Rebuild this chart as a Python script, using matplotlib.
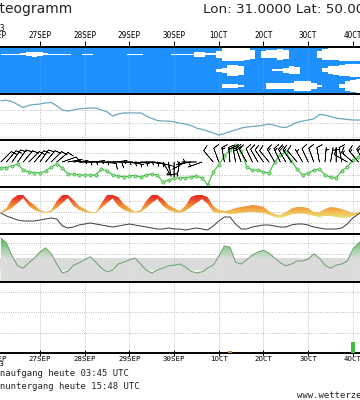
import numpy as np
import matplotlib
matplotlib.use("Agg")
import matplotlib.pyplot as plt
from matplotlib.colors import LinearSegmentedColormap
from matplotlib.patches import PathPatch

# ---------------- data ----------------
# time: days since 26 SEP 2023 00 UTC, 3-hourly steps
t = 0.125 + 0.125 * np.arange(66)

day_ticks = [0, 1, 2, 3, 4, 5, 6, 7, 8]
top_labels = ["2023\n26SEP", "27SEP", "28SEP", "29SEP", "30SEP", "1OCT", "2OCT", "3OCT", "4OCT"]
bottom_labels = ["26SEP\n2023", "27SEP", "28SEP", "29SEP", "30SEP", "1OCT", "2OCT", "3OCT", "4OCT"]

# cloud cover fraction (high / mid / low layer)
cloud_high = [0.1, 0.1, 0.1, 0.1, 0.15, 0.3, 0.35, 0.3, 0.15, 0.1, 0.1, 0.1, 0.1,
              0, 0, 0.1, 0.1, 0, 0, 0, 0, 0, 0, 0.1, 0.1, 0.1, 0, 0, 0, 0, 0,
              0.1, 0.1, 0.1, 0.1, 0.4, 0.4, 0.15, 0.15, 0.5, 1, 1, 1, 1, 0.9, 0.7,
              0, 0.5, 0.6, 0.6, 0.8, 0.7, 0, 0, 0, 0, 0, 0.5, 0.8, 0.9, 0.9,
              1, 1, 1, 1, 1]
cloud_mid = [0] * 39 + [0.2, 0.4, 0.8, 0.8, 0.7, 0, 0, 0, 0, 0,
                        0.15, 0.15, 0.35, 0.6, 0.5, 0, 0, 0, 0,
                        0.3, 0.6, 0.7, 0.8, 0.9, 1, 1, 1]
cloud_low = [0] * 40 + [0.25, 0.3, 0.3, 0.2, 0, 0, 0, 0,
                        0.4, 0.45, 0.45, 0.45, 0.5, 0.8, 0.8, 0.7, 0.4, 0.15,
                        0, 0, 0, 0.3, 0.7, 0.9, 1, 1]

# sea level pressure (hPa)
pressure = [1023.4, 1023.6, 1023.1, 1022.0, 1020.9, 1021.7, 1022.0, 1022.2, 1022.6, 1022.8,
            1021.5, 1020.0, 1019.6, 1020.0, 1020.4, 1020.6, 1020.7, 1020.7, 1020.0, 1019.3,
            1017.8, 1018.5, 1018.9, 1018.9, 1018.9, 1018.9, 1017.8, 1016.9, 1016.1, 1015.9,
            1015.9, 1015.6, 1015.1, 1014.8, 1014.3, 1013.3, 1012.8, 1012.2, 1011.5, 1010.7,
            1011.3, 1012.0, 1012.6, 1013.3, 1013.7, 1013.9, 1014.1, 1014.4, 1014.8, 1014.3,
            1013.7, 1013.5, 1014.4, 1015.4, 1015.9, 1016.3, 1016.7, 1018.3, 1018.1, 1017.6,
            1017.0, 1016.7, 1016.5, 1016.3, 1016.3, 1016.3]

# wind speed (km/h) and direction (deg, from)
wind_speed = [19, 19.5, 21, 23, 17, 15, 14.5, 14, 16, 20,
              23, 19, 13, 13, 12, 12, 12, 12, 18, 16,
              12, 11, 10, 11, 11.5, 10, 12, 13, 12, 5,
              7, 9, 9, 9.5, 10, 11, 9, 2, 15, 22,
              31, 37, 42, 36, 20, 17, 17, 15, 14, 25,
              32, 35, 26, 18, 12, 14, 17, 18, 12, 10,
              9, 16, 20, 27, 30, 29]
wind_dir = [45, 40, 35, 35, 40, 45, 40, 35, 40, 45,
            50, 70, 80, 85, 90, 90, 85, 90, 95, 90,
            85, 90, 95, 100, 95, 90, 95, 100, 105, 150,
            170, 180, 190, 240, 260, 270, 250, 280, 320, 340,
            350, 355, 350, 340, 330, 335, 330, 325, 320, 330,
            335, 330, 325, 320, 330, 335, 340, 350, 5, 10,
            0, 350, 300, 310, 320, 330]

# temperature band (deg C) and dew point
temp_upper = [11, 13, 17.5, 19.5, 19.5, 16.5, 14.5, 12, 11, 11.8,
              16.5, 19.5, 19.5, 17, 14, 12.5, 11, 11, 15.5, 19.5,
              19.5, 18.5, 15, 13, 11, 12, 16.5, 19.5, 19.5, 17.5,
              14.5, 13, 11.5, 14, 18.5, 19.5, 19.5, 18.5, 14, 12,
              11.5, 12, 13, 13.5, 14, 14.5, 14.2, 13.5, 11.5, 10,
              9.5, 11, 12.8, 13.5, 13.5, 13, 11, 11, 12.5, 13.5,
              13.2, 12.5, 11.5, 10.5, 11, 11.5]
temp_lower = [10.5, 11.5, 13, 15.5, 18, 14, 12, 11, 10.5, 11,
              13, 15.5, 18, 14, 12, 11, 10.5, 10.5, 13, 15.5,
              17.8, 14, 12, 11, 10.5, 11, 13, 15.5, 17.5, 14,
              12, 11, 10.5, 11.5, 13.5, 15.5, 17.5, 15, 11, 10.5,
              10.5, 10, 10.2, 10.5, 11, 11, 10.8, 10.5, 9.5, 8.5,
              8, 8.8, 9.8, 10.2, 10.2, 9.8, 9, 8.5, 9, 9,
              8.5, 8, 8, 9, 10, 10]
dew_point = [10.5, 9, 8, 7, 6.5, 6.5, 6.5, 7, 7.5, 8,
             7.5, 4, 3, 3.5, 4.5, 5, 5.5, 5, 4.5, 4,
             3.5, 4, 4.5, 5, 4.5, 4, 3.5, 3, 2.5, 2.5,
             3, 2.5, 2.5, 2, 2.5, 3, 2.5, 2, 4, 6.5,
             8.5, 8.5, 5, 2.5, 2.5, 3.5, 4, 4.5, 4.5, 4,
             3.5, 3.5, 4.5, 5, 5, 4.5, 3.5, 3, 2.5, 2.5,
             2.5, 3, 5, 8, 10, 11]

# relative humidity (%)
humidity = [93, 85, 63, 47, 43, 52, 60, 70, 77, 67,
            50, 35, 38, 48, 52, 57, 62, 53, 43, 37,
            40, 50, 53, 57, 60, 50, 40, 35, 40, 43,
            47, 48, 50, 45, 38, 35, 37, 43, 48, 63,
            80, 78, 53, 50, 57, 65, 70, 73, 68, 60,
            52, 47, 50, 55, 55, 58, 67, 60, 48, 43,
            48, 50, 55, 75, 85, 90]

# precipitation (mm)
precip_t = [5.25, 8.0]
precip_mm = [0.15, 1.1]
precip_col = ["#c8864a", "#3cbf3c"]

# ---------------- figure ----------------
W, H = 360, 400
fig = plt.figure(figsize=(W / 100, H / 100), dpi=100)
fig.patch.set_facecolor("white")


def t_of_px(x):
    return (x + 4.7) / 44.7


XL = (t_of_px(-36), t_of_px(396))


def make_ax(y_top, y_bot):
    ax = fig.add_axes([-36 / W, 1 - y_bot / H, 432 / W, (y_bot - y_top) / H])
    ax.set_xlim(*XL)
    ax.set_xticks(day_ticks)
    ax.tick_params(axis="both", which="both", left=False, right=False, labelleft=False,
                   bottom=False, labelbottom=False, top=False, labeltop=False)
    for s in ("left", "right"):
        ax.spines[s].set_visible(False)
    for s in ("top", "bottom"):
        ax.spines[s].set_linewidth(1.4)
        ax.spines[s].set_color("black")
    ax.set_axisbelow(True)
    return ax


grid_kw = dict(color="#9a9a9a", lw=0.55, ls=(0, (1, 2)))

# panel 1: clouds
ax1 = make_ax(46.5, 94)
ax1.set_facecolor("#1E90FF")
ax1.set_ylim(0, 3)
ax1.set_yticks([])
ax1.grid(True, axis="x", color="white", lw=0.5, ls=(0, (1, 3)), alpha=0.5)
for cover, centre in ((cloud_high, 2.5), (cloud_mid, 1.5), (cloud_low, 0.5)):
    c = np.asarray(cover, dtype=float)
    ax1.fill_between(t, centre - 0.42 * c, centre + 0.42 * c, step="mid",
                     facecolor="white", edgecolor="none", lw=0, zorder=3)
ax1.tick_params(axis="x", which="major", top=True, labeltop=True, direction="out",
                length=4, width=0.7, pad=0.5, labelsize=5.5)
ax1.set_xticklabels(top_labels)
for lab in ax1.get_xticklabels():
    lab.set_fontfamily("DejaVu Sans Mono")
    lab.set_linespacing(0.8)

# panel 2: pressure
ax2 = make_ax(94, 140)
ax2.set_ylim(1008.9, 1025.9)
ax2.set_yticks([1010, 1015, 1020])
ax2.grid(True, **grid_kw)
ax2.plot(t, pressure, color="#6aa8bc", lw=0.9, zorder=3)

# panel 3: wind
ax3 = make_ax(140, 187)
ax3.set_ylim(0, 47)
ax3.set_yticks([12, 34])
ax3.grid(True, **grid_kw)
ws = np.asarray(wind_speed, dtype=float)
wd = np.deg2rad(np.asarray(wind_dir, dtype=float))
kn = ws / 1.852
u = -kn * np.sin(wd)
v = -kn * np.cos(wd)
ax3.plot(t, ws, color="#3db83d", lw=0.8, marker="o", ms=2.3, mfc="#9be39b",
         mec="#3db83d", mew=0.5, zorder=3)
ax3.barbs(t, np.full_like(t, 25.0), u, v, length=4.6, linewidth=0.45, color="black",
          barb_increments=dict(half=5, full=10, flag=50),
          sizes=dict(emptybarb=0.0), zorder=4)

# panel 4: temperature
ax4 = make_ax(187, 234)
ax4.set_ylim(0, 23.5)
ax4.set_yticks([5.5, 11, 16.5, 22])
ax4.grid(True, **grid_kw)
temp_cmap = LinearSegmentedColormap.from_list(
    "temp", [(0.0, "#efe07a"), (0.22, "#eec258"), (0.38, "#f0a640"),
             (0.52, "#f08a36"), (0.66, "#f06a30"), (0.8, "#e8402a"), (1.0, "#e02424")])


def gradient_fill(ax, x, y1, y2, cmap, vmin, vmax, zorder=2):
    poly = ax.fill_between(x, y1, y2, facecolor="none", edgecolor="none", lw=0)
    patch = PathPatch(poly.get_paths()[0], transform=ax.transData,
                      facecolor="none", edgecolor="none")
    ax.add_patch(patch)
    grad = np.linspace(vmin, vmax, 256).reshape(-1, 1)
    im = ax.imshow(grad, cmap=cmap, aspect="auto", origin="lower",
                   extent=[x.min(), x.max(), vmin, vmax], vmin=vmin, vmax=vmax,
                   zorder=zorder, interpolation="bilinear")
    im.set_clip_path(patch)
    return im


gradient_fill(ax4, t, temp_lower, temp_upper, temp_cmap, 8, 20, zorder=2)
ax4.plot(t, dew_point, color="#3a3a3a", lw=0.7, zorder=3)
ax4.set_xlim(*XL)
ax4.set_ylim(0, 23.5)

# panel 5: humidity
ax5 = make_ax(234, 282)
ax5.set_ylim(20, 100)
ax5.axhspan(40, 60, color="#dadcda", lw=0, zorder=0)
ax5.axhspan(20, 40, color="#e8f4e8", lw=0, zorder=0)
ax5.set_yticks([67, 85])
ax5.grid(True, **grid_kw)
hum_cmap = LinearSegmentedColormap.from_list(
    "hum", [(0.0, "#dadcda"), (0.5, "#dadcda"), (0.55, "#c6d8c6"), (0.68, "#a4d0a4"),
            (0.8, "#72c872"), (0.9, "#44cf44"), (1.0, "#1ed81e")])
gradient_fill(ax5, t, np.full_like(t, 20.0), humidity, hum_cmap, 20, 100, zorder=1)
ax5.plot(t, humidity, color="#6a9e6a", lw=0.7, zorder=3)
ax5.set_xlim(*XL)
ax5.set_ylim(20, 100)

# panel 6: precipitation
ax6 = make_ax(282, 353)
ax6.set_ylim(0, 7)
ax6.set_yticks([2, 4, 6])
ax6.grid(True, **grid_kw)
ax6.bar(precip_t, precip_mm, width=0.075, color=precip_col, lw=0, zorder=3)
ax6.tick_params(axis="x", which="major", bottom=True, labelbottom=True, direction="inout",
                length=4, width=0.7, pad=0.3, labelsize=5.3)
ax6.set_xticklabels(bottom_labels)
for lab in ax6.get_xticklabels():
    lab.set_fontfamily("DejaVu Sans Mono")
    lab.set_linespacing(0.75)

# texts
fig.text(-20.5 / W, 1 - 13 / H, "Meteogramm", fontsize=10, color="#222222",
         ha="left", va="baseline", family="DejaVu Sans")
fig.text(203 / W, 1 - 13 / H, "Lon: 31.0000 Lat: 50.0000", fontsize=9.7, color="#222222",
         ha="left", va="baseline", family="DejaVu Sans")
fig.text(-26.7 / W, 1 - 376 / H, "Sonnenaufgang heute 03:45 UTC", fontsize=6.4,
         color="#222222", ha="left", va="baseline", family="DejaVu Sans Mono")
fig.text(-26.7 / W, 1 - 389 / H, "Sonnenuntergang heute 15:48 UTC", fontsize=6.4,
         color="#222222", ha="left", va="baseline", family="DejaVu Sans Mono")
fig.text(297 / W, 1 - 398 / H, "www.wetterzentrale.de", fontsize=6.4,
         color="#222222", ha="left", va="baseline", family="DejaVu Sans Mono")

fig.savefig("out.png", dpi=100)
